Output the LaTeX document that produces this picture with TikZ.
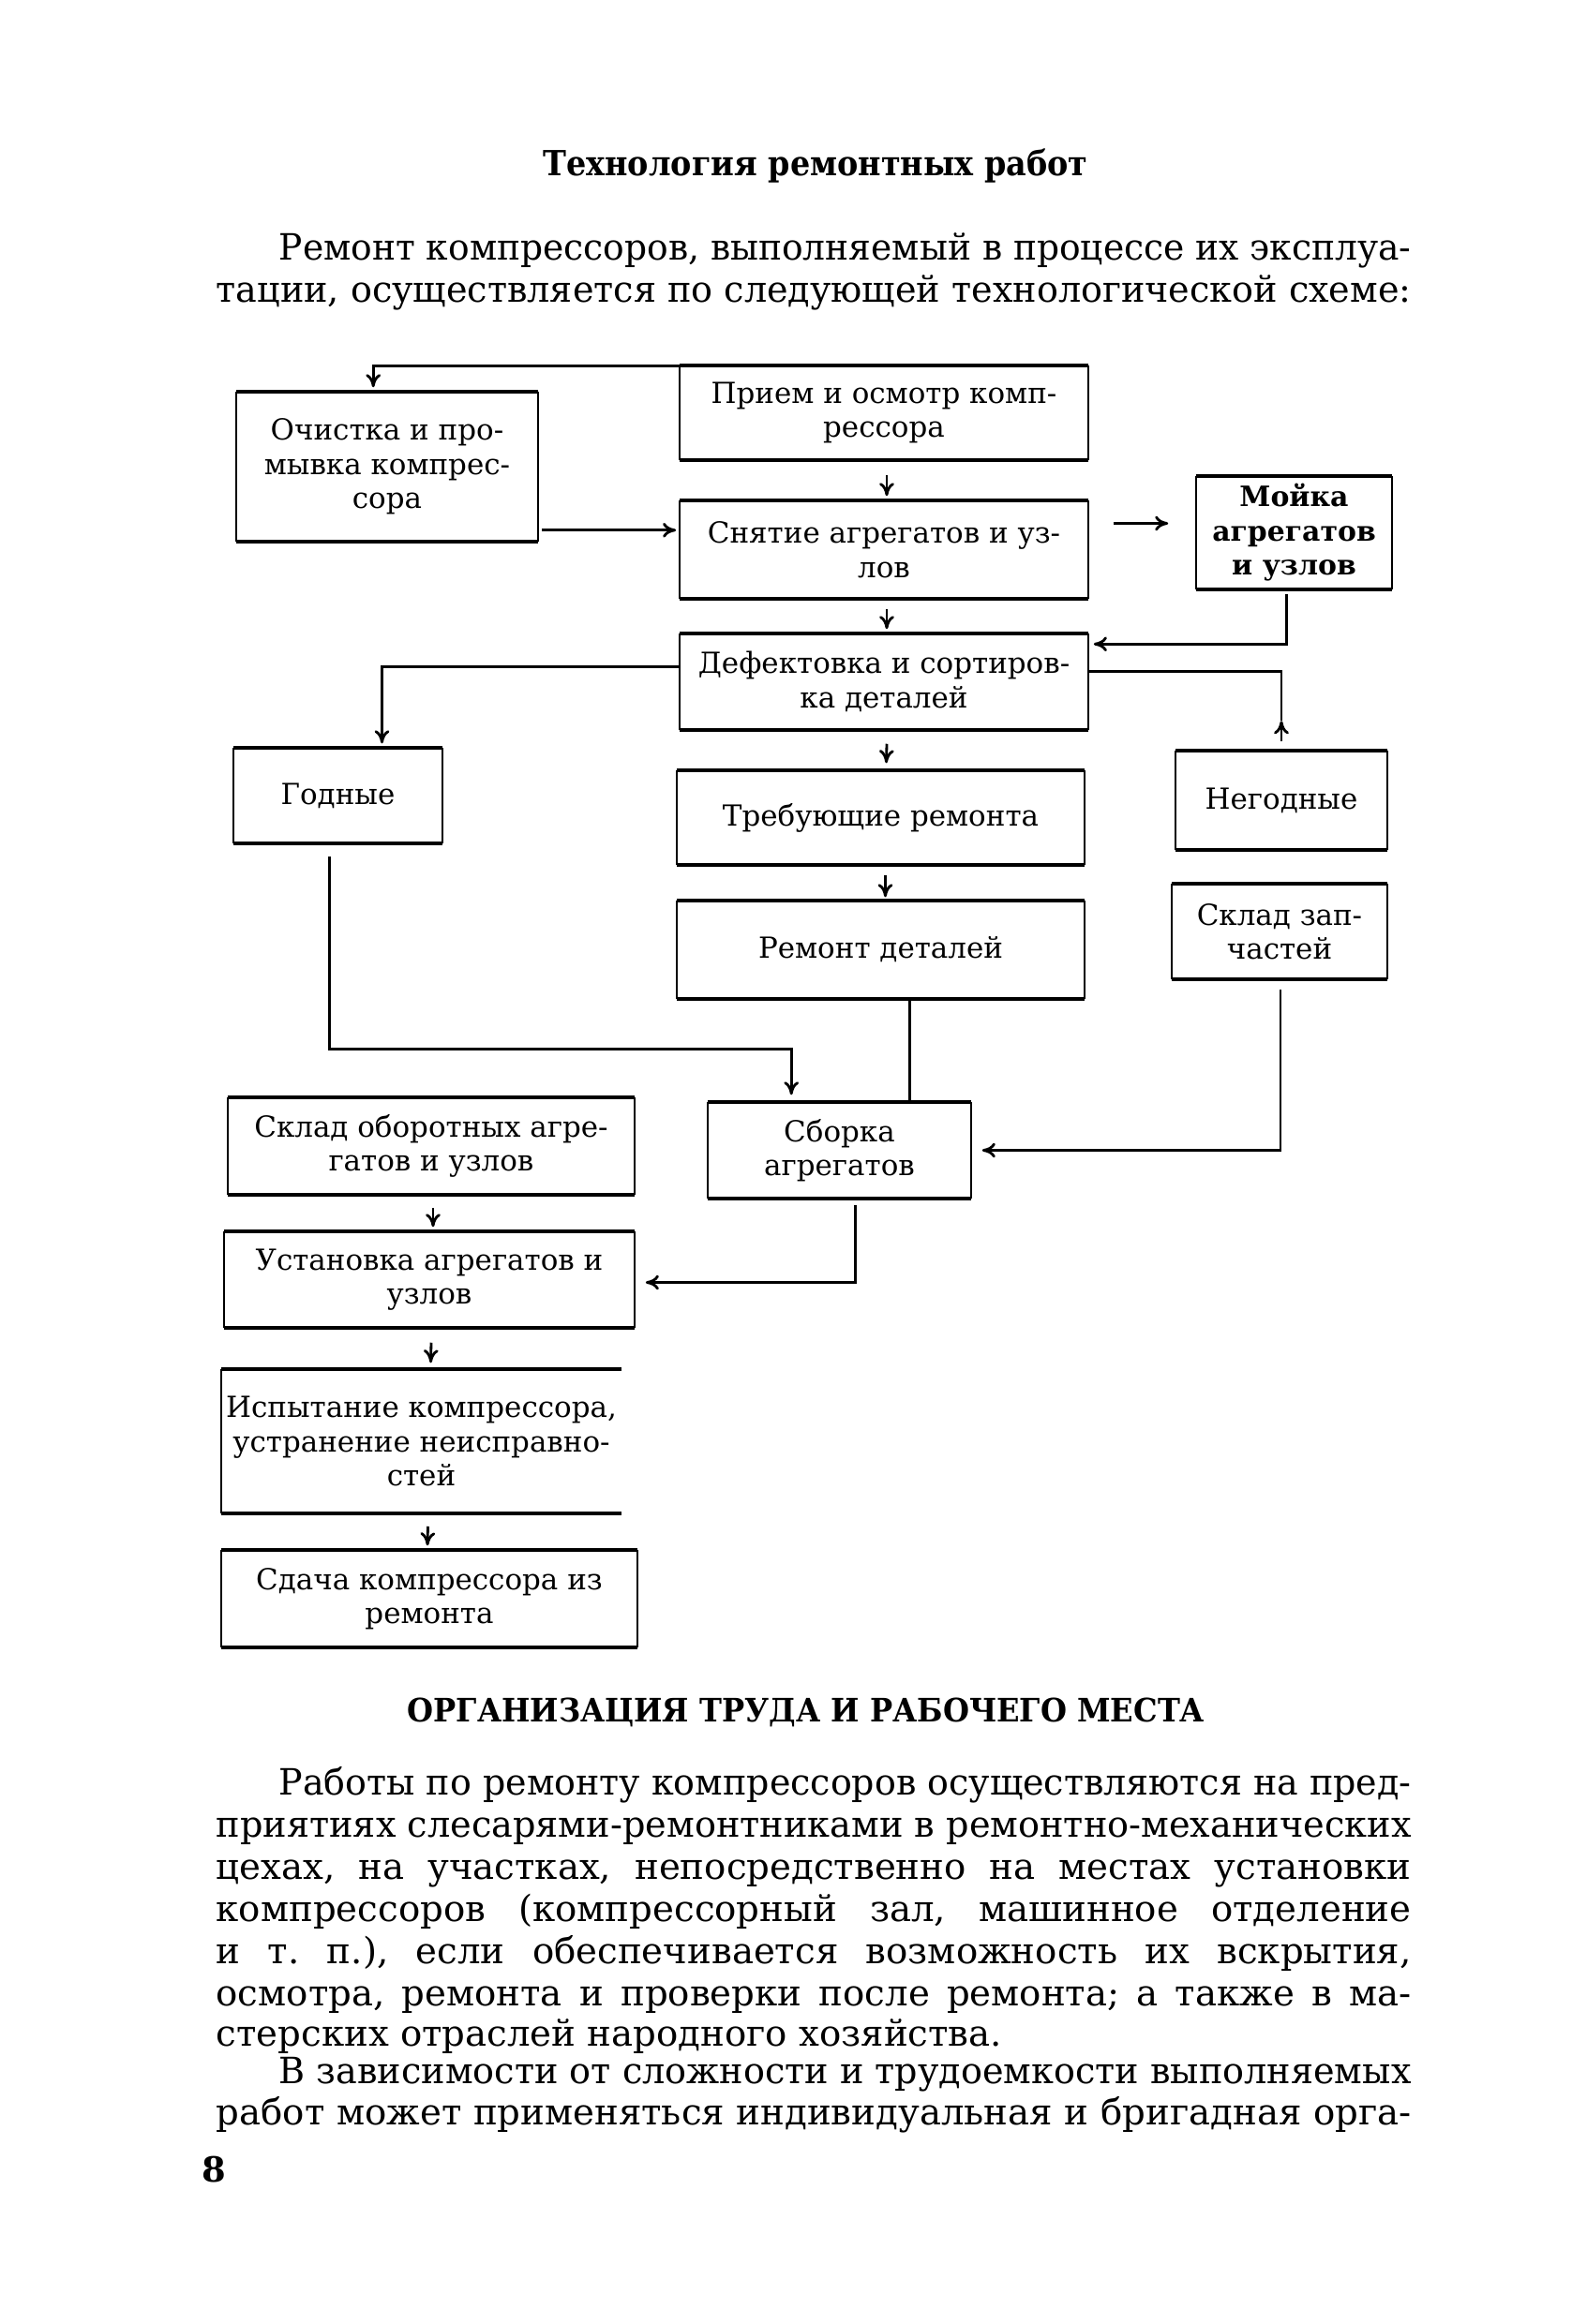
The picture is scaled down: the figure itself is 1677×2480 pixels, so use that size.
\documentclass[tikz,border=0pt]{standalone}
\usepackage{fontspec}
\usepackage{graphicx}
\setmainfont{DejaVu Serif}
\frenchspacing
\usetikzlibrary{arrows.meta,calc}
\tikzset{
  box/.style={inner sep=0pt, align=center, font=\fontsize{8.8}{10.4}\selectfont},
  hl/.style={line width=1.2pt},
  vl/.style={line width=0.7pt},
  con/.style={line width=0.8pt},
  arr/.style={con, -{To[length=4pt,width=4.5pt]}},
  body/.style={anchor=base west, inner sep=0pt, font=\fontsize{11}{12.8}\selectfont},
}
\newlength\jlw
\newcommand\jline[2]{\settowidth\jlw{#2}\ifdim\jlw>#1\relax\resizebox{#1}{\height}{#2}\else\makebox[#1][s]{#2}\fi}
\newcommand\bxframe[1]{%
  \draw[hl] (#1.north west) -- (#1.north east);
  \draw[hl] (#1.south west) -- (#1.south east);
  \draw[vl] (#1.north west) -- (#1.south west);
  \draw[vl] (#1.north east) -- (#1.south east);}
\begin{document}
\begin{tikzpicture}[x=0.01cm,y=-0.01cm]
\fill[white] (0,0) rectangle (1677,2480);
\useasboundingbox (0,0) rectangle (1677,2480);

% heading and intro
\node[font=\bfseries\fontsize{10.5}{13}\selectfont, anchor=base, inner sep=0pt] (title) at (870,187) {\resizebox{5.81cm}{\height}{Технология ремонтных работ}};
\node[body] (p1) at (297,277) {\jline{12.07cm}{Ремонт компрессоров, выполняемый в процессе их эксплуа-}};
\node[body] (p2) at (230,322) {\jline{12.74cm}{тации, осуществляется по следующей технологической схеме:}};

% boxes
\node[box, minimum width=3.20cm, minimum height=1.58cm] (och) at (413,498) {Очистка и про-\\мывка компрес-\\сора};
\node[box, minimum width=4.34cm, minimum height=0.99cm] (priem) at (943,440.5) {Прием и осмотр комп-\\рессора};
\node[box, minimum width=4.34cm, minimum height=1.03cm] (snyat) at (943,586.5) {Снятие агрегатов и уз-\\лов};
\node[box, font=\bfseries\fontsize{8.5}{10.4}\selectfont, minimum width=2.07cm, minimum height=1.19cm] (moyka) at (1380.5,568.5) {Мойка\\агрегатов\\и узлов};
\node[box, minimum width=4.34cm, minimum height=1.01cm] (defekt) at (943,727.5) {Дефектовка и сортиров-\\ка деталей};
\node[box, minimum width=2.21cm, minimum height=1.00cm] (godn) at (360.5,849) {Годные};
\node[box, minimum width=4.33cm, minimum height=0.99cm] (treb) at (939.5,872.5) {Требующие ремонта};
\node[box, minimum width=2.24cm, minimum height=1.04cm] (negodn) at (1367,854) {Негодные};
\node[box, minimum width=4.33cm, minimum height=1.03cm] (remdet) at (939.5,1013.5) {Ремонт деталей};
\node[box, minimum width=2.28cm, minimum height=1.00cm] (sklzap) at (1365,994) {Склад зап-\\частей};
\node[box, minimum width=4.32cm, minimum height=1.02cm] (sklob) at (460,1223) {Склад оборотных агре-\\гатов и узлов};
\node[box, minimum width=2.79cm, minimum height=1.01cm] (sborka) at (895.5,1227.5) {Сборка\\агрегатов};
\node[box, minimum width=4.36cm, minimum height=1.01cm] (ustan) at (458,1365.5) {Установка агрегатов и\\узлов};
\node[box, minimum width=4.25cm, minimum height=1.52cm] (ispyt) at (449.5,1538) {Испытание компрессора,\\устранение неисправно-\\стей};
\node[box, minimum width=4.42cm, minimum height=1.02cm] (sdacha) at (458,1706) {Сдача компрессора из\\ремонта};

\bxframe{och}
\bxframe{priem}
\bxframe{snyat}
\bxframe{moyka}
\bxframe{defekt}
\bxframe{godn}
\bxframe{treb}
\bxframe{negodn}
\bxframe{remdet}
\bxframe{sklzap}
\bxframe{sklob}
\bxframe{sborka}
\bxframe{ustan}
\bxframe{sdacha}
\draw[hl] (ispyt.north west) -- (ispyt.north east);
\draw[hl] (ispyt.south west) -- (ispyt.south east);
\draw[vl] (ispyt.north west) -- (ispyt.south west);

% connectors
\draw[arr] (priem.north west) -| ($(och.north west)+(146,-5)$);
\draw[arr] ($(priem.south)+(3,16)$) -- ($(snyat.north)+(3,-5)$);
\draw[arr] ($(och.south east)+(4,-12)$) -- ($(och.south east -| snyat.west)+(-4,-12)$);
\draw[arr] ($(snyat.east)+(27,-28)$) -- ($(snyat.east -| moyka.west)+(-30,-28)$);
\draw[arr] ($(snyat.south)+(3,11)$) -- ($(defekt.north)+(3,-5)$);
\draw[arr] ($(moyka.south)+(-8,5)$) |- ($(defekt.north east)+(6,11)$);
\draw[arr] ($(defekt.north west)+(0,35)$) -| ($(godn.north)+(47,-5)$);
\draw[con] ($(defekt.north east)+(0,40)$) -| ($(negodn.north)+(0,-32)$);
\draw[arr] ($(negodn.north)+(0,-10)$) -- ($(negodn.north)+(0,-32)$);
\draw[arr] ($(defekt.south)+(3,15)$) -- ($(treb.north)+(6,-8)$);
\draw[arr] ($(treb.south)+(5,11)$) -- ($(remdet.north)+(5,-4)$);
\draw[con] ($(remdet.south)+(31,0)$) -- ($(sborka.north)+(75,0)$);
\draw[arr] ($(godn.south)+(-9,14)$) |- ($(sborka.north west)+(89,-57)$) -- ($(sborka.north west)+(89,-8)$);
\draw[arr] ($(sklzap.south)+(1,11)$) |- ($(sborka.east)+(12,0)$);
\draw[arr] ($(sklob.south)+(2,14)$) -- ($(ustan.north)+(4,-5)$);
\draw[arr] ($(sborka.south)+(17,7)$) |- ($(ustan.east)+(12,3)$);
\draw[arr] ($(ustan.south)+(2,16)$) -- ($(ispyt.north)+(10,-7)$);
\draw[arr] ($(ispyt.south)+(7,14)$) -- ($(sdacha.north)+(-2,-5)$);

% second section
\node[font=\bfseries\fontsize{9.8}{12}\selectfont, anchor=base, inner sep=0pt] (h2) at (860,1837) {\resizebox{8.5cm}{\height}{ОРГАНИЗАЦИЯ ТРУДА И РАБОЧЕГО МЕСТА}};
\node[body] (b1) at (297,1915) {\jline{12.07cm}{Работы по ремонту компрессоров осуществляются на пред-}};
\node[body] (b2) at (230,1960) {\jline{12.74cm}{приятиях слесарями-ремонтниками в ремонтно-механических}};
\node[body] (b3) at (230,2005) {\jline{12.74cm}{цехах, на участках, непосредственно на местах установки}};
\node[body] (b4) at (230,2050) {\jline{12.74cm}{компрессоров (компрессорный зал, машинное отделение}};
\node[body] (b5) at (230,2095) {\jline{12.74cm}{и т. п.), если обеспечивается возможность их вскрытия,}};
\node[body] (b6) at (230,2140) {\jline{12.74cm}{осмотра, ремонта и проверки после ремонта; а также в ма-}};
\node[body] (b7) at (230,2183) {стерских отраслей народного хозяйства.};
\node[body] (b8) at (297,2223) {\jline{12.07cm}{В зависимости от сложности и трудоемкости выполняемых}};
\node[body] (b9) at (230,2267) {\jline{12.74cm}{работ может применяться индивидуальная и бригадная орга-}};
\node[font=\bfseries\fontsize{10.5}{12}\selectfont, anchor=base west, inner sep=0pt] (pg) at (215,2328) {8};
\end{tikzpicture}
\end{document}
